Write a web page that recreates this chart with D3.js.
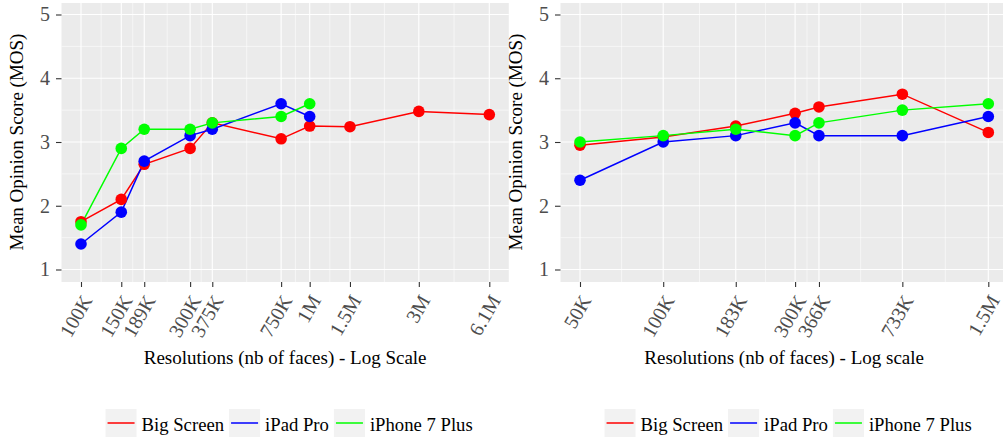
<!DOCTYPE html>
<html>
<head>
<meta charset="utf-8">
<script src="https://cdn.jsdelivr.net/npm/d3@7"></script>
<style>
  html, body { margin: 0; padding: 0; background: #fff; }
  svg { display: block; }
  text { font-family: "Liberation Serif", "DejaVu Serif", serif; }
</style>
</head>
<body>
<svg id="chart" width="1003" height="441"></svg>
<script>
// ---- Data ----------------------------------------------------------------
const seriesNames = ["Big Screen", "iPad Pro", "iPhone 7 Plus"];
const seriesColors = ["#ff0000", "#0000ff", "#00ff00"];

// Panel A: resolutions (number of faces)
const resA = [100e3, 150e3, 189e3, 300e3, 375e3, 750e3, 1e6, 1.5e6, 3e6, 6.1e6];
const labelsA = ["100K", "150K", "189K", "300K", "375K", "750K", "1M", "1.5M", "3M", "6.1M"];
const bigScreenA = [1.75, 2.10, 2.65, 2.90, 3.30, 3.05, 3.25, 3.24, 3.48, 3.43];
const iPadProA   = [1.40, 1.90, 2.70, 3.10, 3.20, 3.60, 3.40];
const iPhoneA    = [1.70, 2.90, 3.20, 3.20, 3.30, 3.40, 3.60];

// Panel B: resolutions (number of faces)
const resB = [50e3, 100e3, 183e3, 300e3, 366e3, 733e3, 1.5e6];
const labelsB = ["50K", "100K", "183K", "300K", "366K", "733K", "1.5M"];
const bigScreenB = [2.95, 3.08, 3.25, 3.45, 3.55, 3.75, 3.15];
const iPadProB   = [2.40, 3.00, 3.10, 3.30, 3.10, 3.10, 3.40];
const iPhoneB    = [3.00, 3.10, 3.20, 3.10, 3.30, 3.50, 3.60];

const yTicks = [1, 2, 3, 4, 5];
const yMinor = [1.5, 2.5, 3.5, 4.5];

const svg = d3.select("#chart");
const FONT = "Liberation Serif";

function drawPanel(opt) {
  const g = svg.append("g");
  const x = d3.scaleLog().domain([opt.res[0], opt.res[opt.res.length - 1]])
    .range([opt.x0, opt.x1]);
  const y = d3.scaleLinear().domain([1, 5]).range([269.5, 14.5]);

  // panel background (clipped by the svg on the right)
  const px0 = opt.x0 - 19.5, px1 = opt.x1 + 19.5;
  g.append("rect").attr("x", px0).attr("y", 3).attr("width", px1 - px0)
    .attr("height", 282 - 3).attr("fill", "#ebebeb");

  // minor grid lines (midpoints in log space between the breaks)
  const lr = opt.res.map(Math.log10);
  const minorX = d3.pairs(lr).map(([a, b]) => Math.pow(10, (a + b) / 2));
  g.selectAll(null).data(minorX).join("line")
    .attr("x1", d => x(d)).attr("x2", d => x(d))
    .attr("y1", 3).attr("y2", 282)
    .attr("stroke", "#fff").attr("stroke-width", 0.55);
  g.selectAll(null).data(yMinor).join("line")
    .attr("x1", px0).attr("x2", px1)
    .attr("y1", d => y(d)).attr("y2", d => y(d))
    .attr("stroke", "#fff").attr("stroke-width", 0.55);

  // major grid lines
  g.selectAll(null).data(opt.res).join("line")
    .attr("x1", d => x(d)).attr("x2", d => x(d))
    .attr("y1", 3).attr("y2", 282)
    .attr("stroke", "#fff").attr("stroke-width", 1.1);
  g.selectAll(null).data(yTicks).join("line")
    .attr("x1", px0).attr("x2", px1)
    .attr("y1", d => y(d)).attr("y2", d => y(d))
    .attr("stroke", "#fff").attr("stroke-width", 1.1);

  // y axis
  const yAxis = g.append("g").attr("transform", `translate(${px0},0)`)
    .call(d3.axisLeft(y).tickValues(yTicks).tickSize(5.5).tickPadding(6).tickFormat(d3.format("d")));
  yAxis.attr("font-family", FONT).attr("font-size", 20);
  yAxis.select(".domain").remove();
  yAxis.selectAll(".tick line").attr("stroke", "#333").attr("stroke-width", 1.1);
  yAxis.selectAll(".tick text").attr("fill", "#4d4d4d");

  // x axis
  const xAxis = g.append("g").attr("transform", "translate(0,282)")
    .call(d3.axisBottom(x).tickValues(opt.res).tickSize(5)
      .tickFormat((d, i) => opt.labels[i]));
  xAxis.attr("font-family", FONT).attr("font-size", 20);
  xAxis.select(".domain").remove();
  xAxis.selectAll(".tick line").attr("stroke", "#333").attr("stroke-width", 1.1);
  xAxis.selectAll(".tick text")
    .attr("fill", "#4d4d4d")
    .attr("text-anchor", "end")
    .attr("x", 0).attr("y", 0).attr("dy", "0.72em")
    .attr("transform", "translate(-1,11) rotate(-60)");

  // lines then points, series drawn in order
  const series = opt.series.map((vals, s) => ({
    name: seriesNames[s], color: seriesColors[s],
    pts: vals.map((v, i) => ({ r: opt.res[i], v }))
  }));
  const line = d3.line().x(d => x(d.r)).y(d => y(d.v));
  series.forEach(s => {
    g.append("path").attr("d", line(s.pts)).attr("fill", "none")
      .attr("stroke", s.color).attr("stroke-width", 1.5);
  });
  series.forEach(s => {
    g.selectAll(null).data(s.pts).join("circle")
      .attr("cx", d => x(d.r)).attr("cy", d => y(d.v)).attr("r", 5.8)
      .attr("fill", s.color);
  });

  // axis titles
  g.append("text").attr("x", (px0 + px1) / 2).attr("y", 364)
    .attr("text-anchor", "middle").style("font-size", "19px").attr("fill", "#000")
    .text(opt.xTitle);
  g.append("text").attr("transform", `translate(${px0 - 39},${(y(1) + y(5)) / 2}) rotate(-90)`)
    .attr("text-anchor", "middle").style("font-size", "19px").attr("fill", "#000")
    .text("Mean Opinion Score (MOS)");

  // legend
  const lg = g.append("g");
  let cx = 0;
  series.forEach(s => {
    const item = lg.append("g").attr("transform", `translate(${cx},0)`);
    item.append("rect").attr("x", 0).attr("y", 409).attr("width", 31).attr("height", 28)
      .attr("fill", "#f2f2f2");
    item.append("line").attr("x1", 2).attr("x2", 29).attr("y1", 423).attr("y2", 423)
      .attr("stroke", s.color).attr("stroke-width", 1.5);
    const t = item.append("text").attr("x", 36).attr("y", 430.5)
      .style("font-size", "18.7px").attr("fill", "#000").text(s.name);
    cx += 36 + t.node().getComputedTextLength() + 5;
  });
  const lw = cx - 5;
  lg.attr("transform", `translate(${(px0 + px1) / 2 + 4 - lw / 2},0)`);
}

drawPanel({
  res: resA, labels: labelsA, x0: 81, x1: 489.3,
  series: [bigScreenA, iPadProA, iPhoneA],
  xTitle: "Resolutions (nb of faces) - Log Scale"
});
drawPanel({
  res: resB, labels: labelsB, x0: 580, x1: 988.3,
  series: [bigScreenB, iPadProB, iPhoneB],
  xTitle: "Resolutions (nb of faces) - Log scale"
});
</script>
</body>
</html>
